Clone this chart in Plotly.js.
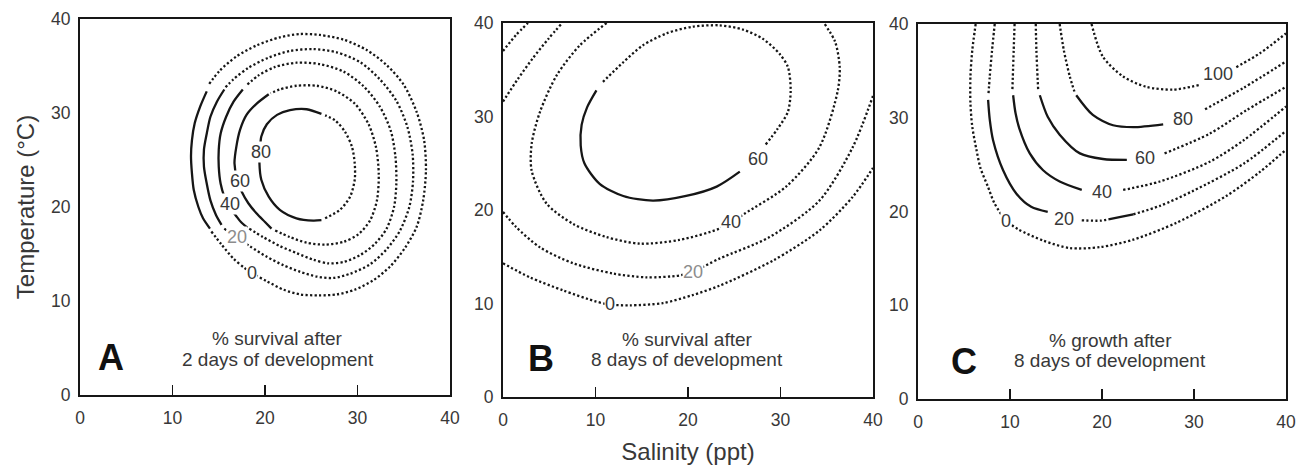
<!DOCTYPE html>
<html>
<head>
<meta charset="utf-8">
<script src="https://cdn.plot.ly/plotly-3.0.1.min.js"></script>
<style>
  html, body { margin: 0; padding: 0; background: #ffffff; }
  #chart { width: 1307px; height: 466px; }
</style>
</head>
<body>
<div id="chart"></div>
<script>
// ---------- axes ----------
const salinityTicks = [0, 10, 20, 30, 40];
const temperatureTicks = [0, 10, 20, 30, 40];
const tickText = ['0', '10', '20', '30', '40'];

// ---------- Panel A: % survival after 2 days (salinity, temperature) ----------
const aC0Solid = [[13.7,32.3],[13.0,30.7],[12.4,28.9],[12.1,27.1],[12.0,25.4],[12.1,23.6],[12.3,21.8],[12.8,20.0],[13.3,18.8],[14.05,17.7]];
const aC0Dot = [[14.2,17.4],[15.3,16.0],[16.6,14.5],[17.8,13.5],[18.7,12.9],[20.2,12.1],[22.0,11.2],[23.8,10.7],[25.8,10.6],[27.75,10.7],[29.7,11.2],[31.7,12.2],[33.5,13.65],[35.1,15.6],[36.4,17.9],[37.1,20.7],[37.4,23.9],[37.2,27.1],[36.4,30.1],[35.0,33.0],[33.15,35.1],[31.0,36.7],[28.5,37.8],[25.95,38.3],[23.8,38.4],[21.6,38.05],[19.1,37.2],[16.9,36.0],[15.1,34.5],[13.9,33.0]];
const aC20Solid = [[15.6,32.5],[14.8,31.2],[14.1,29.6],[13.7,27.8],[13.4,26.1],[13.4,24.3],[13.7,22.5],[14.1,20.7],[14.7,19.15],[15.3,18.1]];
const aC20Dot = [[15.6,17.7],[16.9,16.8],[18.4,15.8],[20.2,14.7],[22.0,13.8],[23.8,13.1],[25.6,12.6],[27.4,12.45],[29.2,12.9],[31.35,13.9],[33.15,15.5],[34.6,17.5],[35.6,20.0],[36.0,22.7],[35.96,25.6],[35.4,28.5],[34.2,31.3],[32.4,33.6],[30.3,35.4],[27.75,36.45],[25.2,36.8],[22.7,36.6],[20.4,35.9],[18.2,34.8],[16.6,33.6],[15.7,32.7]];
const aC40Solid = [[17.6,32.5],[16.6,31.2],[15.8,29.6],[15.2,27.8],[15.0,26.1],[15.0,24.3],[15.2,22.5],[15.6,21.1],[16.1,20.0],[16.8,19.15],[17.4,18.4],[18.1,17.8]];
const aC40Dot = [[18.3,17.7],[19.8,16.8],[21.6,15.85],[23.4,15.1],[25.2,14.4],[26.85,14.0],[28.5,14.15],[30.3,14.9],[31.9,16.1],[33.15,17.7],[33.95,20.0],[34.2,22.5],[34.1,25.35],[33.6,28.1],[32.4,30.7],[30.6,32.9],[28.5,34.4],[25.95,35.2],[23.4,35.35],[21.1,34.9],[19.3,34.0],[17.95,32.9]];
const aC60Solid = [[20.4,32.0],[19.1,31.0],[18.0,29.8],[17.3,28.2],[16.9,26.4],[16.7,24.65],[17.0,22.9],[17.5,21.6],[18.2,20.4],[19.1,19.3],[20.0,18.4],[20.7,17.7]];
const aC60Dot = [[21.1,17.5],[22.7,16.8],[24.5,16.2],[26.5,16.0],[28.5,16.3],[30.1,17.1],[31.35,18.55],[32.1,20.7],[32.3,23.5],[32.0,26.35],[31.2,28.8],[29.7,31.0],[27.75,32.3],[25.6,32.9],[23.4,32.9],[21.6,32.5],[20.6,32.1]];
const aC80Solid = [[26.1,29.9],[24.5,30.4],[22.7,30.3],[21.3,29.8],[20.2,28.8],[19.6,27.5],[19.46,25.9],[19.4,24.65],[19.6,22.9],[20.4,21.1],[21.6,19.7],[23.4,18.8],[25.2,18.55],[26.1,18.6]];
const aC80Dot = [[26.5,18.8],[28.1,19.7],[29.2,21.1],[29.7,22.9],[29.7,24.65],[29.4,26.4],[28.65,28.0],[27.6,29.2],[26.5,29.75]];
const aLabelText = ['80', '60', '40', '20', '0'];
const aLabelX = [19.57, 17.30, 16.22, 16.94, 18.56];
const aLabelY = [25.89, 22.77, 20.32, 16.77, 12.94];

// ---------- Panel B: % survival after 8 days ----------
const bCornerOuter = [[0,37.0],[1.4,38.7],[2.7,40.0]];
const bCornerInner = [[0,31.6],[1.6,34.0],[3.2,36.2],[4.9,38.3],[6.4,40.0]];
const bC60Solid = [[10.1,32.8],[9.1,31.0],[8.5,29.1],[8.4,26.9],[8.8,25.0],[10.45,22.8],[13.0,21.5],[16.2,21.0],[19.8,21.5],[23.1,22.5],[25.6,24.1]];
const bC60Dot = [[28.4,27.0],[29.7,28.7],[30.8,30.5],[31.1,32.8],[30.8,35.3],[29.9,36.7],[28.1,38.3],[25.95,39.3],[23.4,39.75],[20.5,39.6],[17.7,38.9],[15.1,37.6],[13.0,35.8],[10.7,33.6]];
const bC40Dot = [[11.2,40.0],[8.3,37.6],[5.8,34.4],[4.0,30.5],[3.1,27.1],[3.1,24.2],[4.7,20.7],[7.6,18.5],[11.2,17.1],[14.8,16.4],[19.1,16.8],[23.4,18.0],[24.7,18.7],[26.1,19.6],[30.6,22.5],[34.2,26.7],[36.2,32.8],[36.4,35.3],[35.9,38.0],[34.7,40.0]];
const bC20Dot = [[0,19.8],[1.4,18.2],[4.0,16.0],[7.6,14.3],[11.9,13.2],[15.5,12.8],[19.1,13.0],[20.5,13.4],[23.4,14.8],[28.8,17.1],[34.2,21.0],[37.8,26.7],[40.0,32.2]];
const bC0Dot = [[0,14.3],[2.9,12.8],[6.5,11.4],[10.1,10.2],[11.5,9.9],[13.7,9.8],[17.3,10.05],[20.5,10.9],[23.4,11.9],[29.2,14.6],[34.2,17.8],[37.8,21.4],[40.0,24.5]];
const bLabelText = ['60', '40', '20', '0'];
const bLabelX = [27.57, 24.68, 20.54, 11.53];
const bLabelY = [25.49, 18.72, 13.37, 9.91];

// ---------- Panel C: % growth after 8 days ----------
const cC0Dot = [[6.27,40],[5.9,37.2],[5.7,34.4],[5.7,31.5],[5.9,29.05],[6.35,26.6],[6.8,24.6],[7.6,22.65],[8.3,20.9],[9.6,19.0],[10.9,18.1],[13.6,16.9],[16.5,16.1],[19.8,16.2],[23.4,17.0],[28.1,18.8],[33.5,21.65],[37.2,24.25],[40,26.6]];
const cC20Top = [[8.34,40],[8.05,37.2],[7.8,34.4],[7.65,32.4]];
const cC20Solid = [[7.62,31.9],[7.8,29.8],[8.16,27.6],[9.25,24.4],[10.7,21.9],[12.3,20.5],[14.1,19.95]];
const cC20Mid = [[17.8,19.06],[19.8,19.02],[20.7,19.16]];
const cC20Solid2 = [[20.7,19.16],[21.9,19.4],[23.4,19.7]];
const cC20Dot = [[23.4,19.7],[26.3,20.6],[29.9,22.2],[35.4,25.1],[40,28.6]];
const cC40Top = [[10.5,40],[10.4,37.2],[10.26,33.0]];
const cC40Solid = [[10.34,32.4],[10.6,30.5],[11.0,28.9],[12.15,26.2],[13.6,24.4],[15.4,23.2],[17.8,22.3]];
const cC40Dot = [[22.3,22.3],[26.3,23.2],[31.7,25.3],[35.4,27.6],[40,31.2]];
const cC60Top = [[12.8,40],[12.87,37.2],[13.06,33.0]];
const cC60Solid = [[13.24,32.4],[14.1,30.1],[15.4,28.2],[17.6,26.2],[20.1,25.6],[22.7,25.5]];
const cC60Dot = [[26.8,26.2],[31.7,28.3],[35.7,30.8],[40,33.3]];
const cC80Top = [[15.4,40],[15.85,37.2],[16.5,34.4],[17.0,32.8]];
const cC80Solid = [[17.2,32.4],[19.0,30.3],[21.2,29.2],[23.4,29.0],[26.65,29.3]];
const cC80Dot = [[31.2,30.9],[35.4,33.2],[40,36.0]];
const cC100Left = [[18.86,40],[20.1,36.5],[22.3,34.4],[24.8,33.3],[27.7,33.0],[30.6,33.5]];
const cC100Right = [[34.6,35.4],[37.2,36.9],[40,39.0]];
const cLabelText = ['100', '80', '60', '40', '20', '0'];
const cLabelX = [32.64, 28.76, 24.66, 20.02, 15.85, 9.61];
const cLabelY = [34.67, 29.87, 25.67, 22.12, 19.16, 19.02];

// ---------- styling ----------
const FONT = '"Liberation Sans", Arial, Helvetica, sans-serif';
const INK = '#161616';
const TEXT = '#383838';
const FADED = '#8c8c8c';

const panels = {
  A: { x: 'x',  y: 'y',  xd: [80/1307, 450/1307],  yd: [71/466, 447/466] },
  B: { x: 'x2', y: 'y2', xd: [503/1307, 873/1307], yd: [69/466, 443/466] },
  C: { x: 'x3', y: 'y3', xd: [918/1307, 1286/1307], yd: [67/466, 442/466] }
};

function seg(points, panel, dotted) {
  return {
    type: 'scatter', mode: 'lines',
    x: points.map(p => p[0]), y: points.map(p => p[1]),
    xaxis: panel.x, yaxis: panel.y,
    line: { color: INK, width: dotted ? 2.3 : 2.3, dash: dotted ? '2.2px,2.3px' : 'solid', shape: 'spline', smoothing: 0.8 },
    hoverinfo: 'skip', showlegend: false
  };
}

const P = panels;
const traces = [
  seg(aC0Solid, P.A, false), seg(aC0Dot, P.A, true),
  seg(aC20Solid, P.A, false), seg(aC20Dot, P.A, true),
  seg(aC40Solid, P.A, false), seg(aC40Dot, P.A, true),
  seg(aC60Solid, P.A, false), seg(aC60Dot, P.A, true),
  seg(aC80Solid, P.A, false), seg(aC80Dot, P.A, true),

  seg(bCornerOuter, P.B, true), seg(bCornerInner, P.B, true),
  seg(bC60Solid, P.B, false), seg(bC60Dot, P.B, true),
  seg(bC40Dot, P.B, true), seg(bC20Dot, P.B, true), seg(bC0Dot, P.B, true),

  seg(cC0Dot, P.C, true),
  seg(cC20Top, P.C, true), seg(cC20Solid, P.C, false), seg(cC20Mid, P.C, true),
  seg(cC20Solid2, P.C, false), seg(cC20Dot, P.C, true),
  seg(cC40Top, P.C, true), seg(cC40Solid, P.C, false), seg(cC40Dot, P.C, true),
  seg(cC60Top, P.C, true), seg(cC60Solid, P.C, false), seg(cC60Dot, P.C, true),
  seg(cC80Top, P.C, true), seg(cC80Solid, P.C, false), seg(cC80Dot, P.C, true),
  seg(cC100Left, P.C, true), seg(cC100Right, P.C, true)
];

function xAxis(panel, extra) {
  return Object.assign({
    domain: panel.xd, anchor: panel.y, range: [0, 40],
    tickmode: 'array', tickvals: salinityTicks, ticktext: tickText,
    ticks: 'inside', ticklen: 10, tickwidth: 1.5, tickcolor: INK,
    showline: true, mirror: true, linewidth: 2, linecolor: INK,
    showgrid: false, zeroline: false, fixedrange: true,
    tickfont: { family: FONT, size: 17.5, color: TEXT }, ticklabelstandoff: 6
  }, extra || {});
}
function yAxis(panel, extra) {
  return Object.assign({
    domain: panel.yd, anchor: panel.x, range: [0, 40],
    tickmode: 'array', tickvals: temperatureTicks, ticktext: tickText,
    ticks: '', showline: true, mirror: true, linewidth: 2, linecolor: INK,
    showgrid: false, zeroline: false, fixedrange: true,
    tickfont: { family: FONT, size: 17.5, color: TEXT }, ticklabelstandoff: 4
  }, extra || {});
}

const annotations = [];
function contourLabels(texts, xs, ys, panel, fadedText) {
  texts.forEach((t, i) => annotations.push({
    xref: panel.x, yref: panel.y, x: xs[i], y: ys[i], text: t, showarrow: false,
    font: { family: FONT, size: 18, color: t === fadedText ? FADED : TEXT },
    bgcolor: '#ffffff', borderpad: 0
  }));
}
contourLabels(aLabelText, aLabelX, aLabelY, P.A, '20');
contourLabels(bLabelText, bLabelX, bLabelY, P.B, '20');
contourLabels(cLabelText, cLabelX, cLabelY, P.C, null);

function note(panel, x, y, text) {
  annotations.push({ xref: panel.x, yref: panel.y, x, y, text, showarrow: false,
    font: { family: FONT, size: 19, color: TEXT } });
}
note(P.A, 21.4, 6.0, '% survival after');
note(P.A, 21.4, 3.8, '2 days of development');
note(P.B, 19.9, 6.2, '% survival after');
note(P.B, 19.9, 4.0, '8 days of development');
note(P.C, 20.9, 6.2, '% growth after');
note(P.C, 20.9, 4.1, '8 days of development');

function letter(panel, x, y, text) {
  annotations.push({ xref: panel.x, yref: panel.y, x, y, text: '<b>' + text + '</b>', showarrow: false,
    font: { family: FONT, size: 36, color: '#111111' } });
}
letter(P.A, 3.35, 4.0, 'A');
letter(P.B, 4.07, 4.1, 'B');
letter(P.C, 4.97, 4.05, 'C');

const layout = {
  width: 1307, height: 466,
  margin: { l: 0, r: 0, t: 0, b: 0 },
  paper_bgcolor: '#ffffff', plot_bgcolor: '#ffffff',
  showlegend: false,
  xaxis: xAxis(P.A),
  yaxis: yAxis(P.A, { title: { text: 'Temperature (°C)', standoff: 10, font: { family: FONT, size: 24, color: TEXT } } }),
  xaxis2: xAxis(P.B, { title: { text: 'Salinity (ppt)', standoff: 14, font: { family: FONT, size: 24, color: TEXT } } }),
  yaxis2: yAxis(P.B),
  xaxis3: xAxis(P.C),
  yaxis3: yAxis(P.C),
  annotations
};

Plotly.newPlot('chart', traces, layout, { displayModeBar: false, staticPlot: true });
</script>
</body>
</html>
